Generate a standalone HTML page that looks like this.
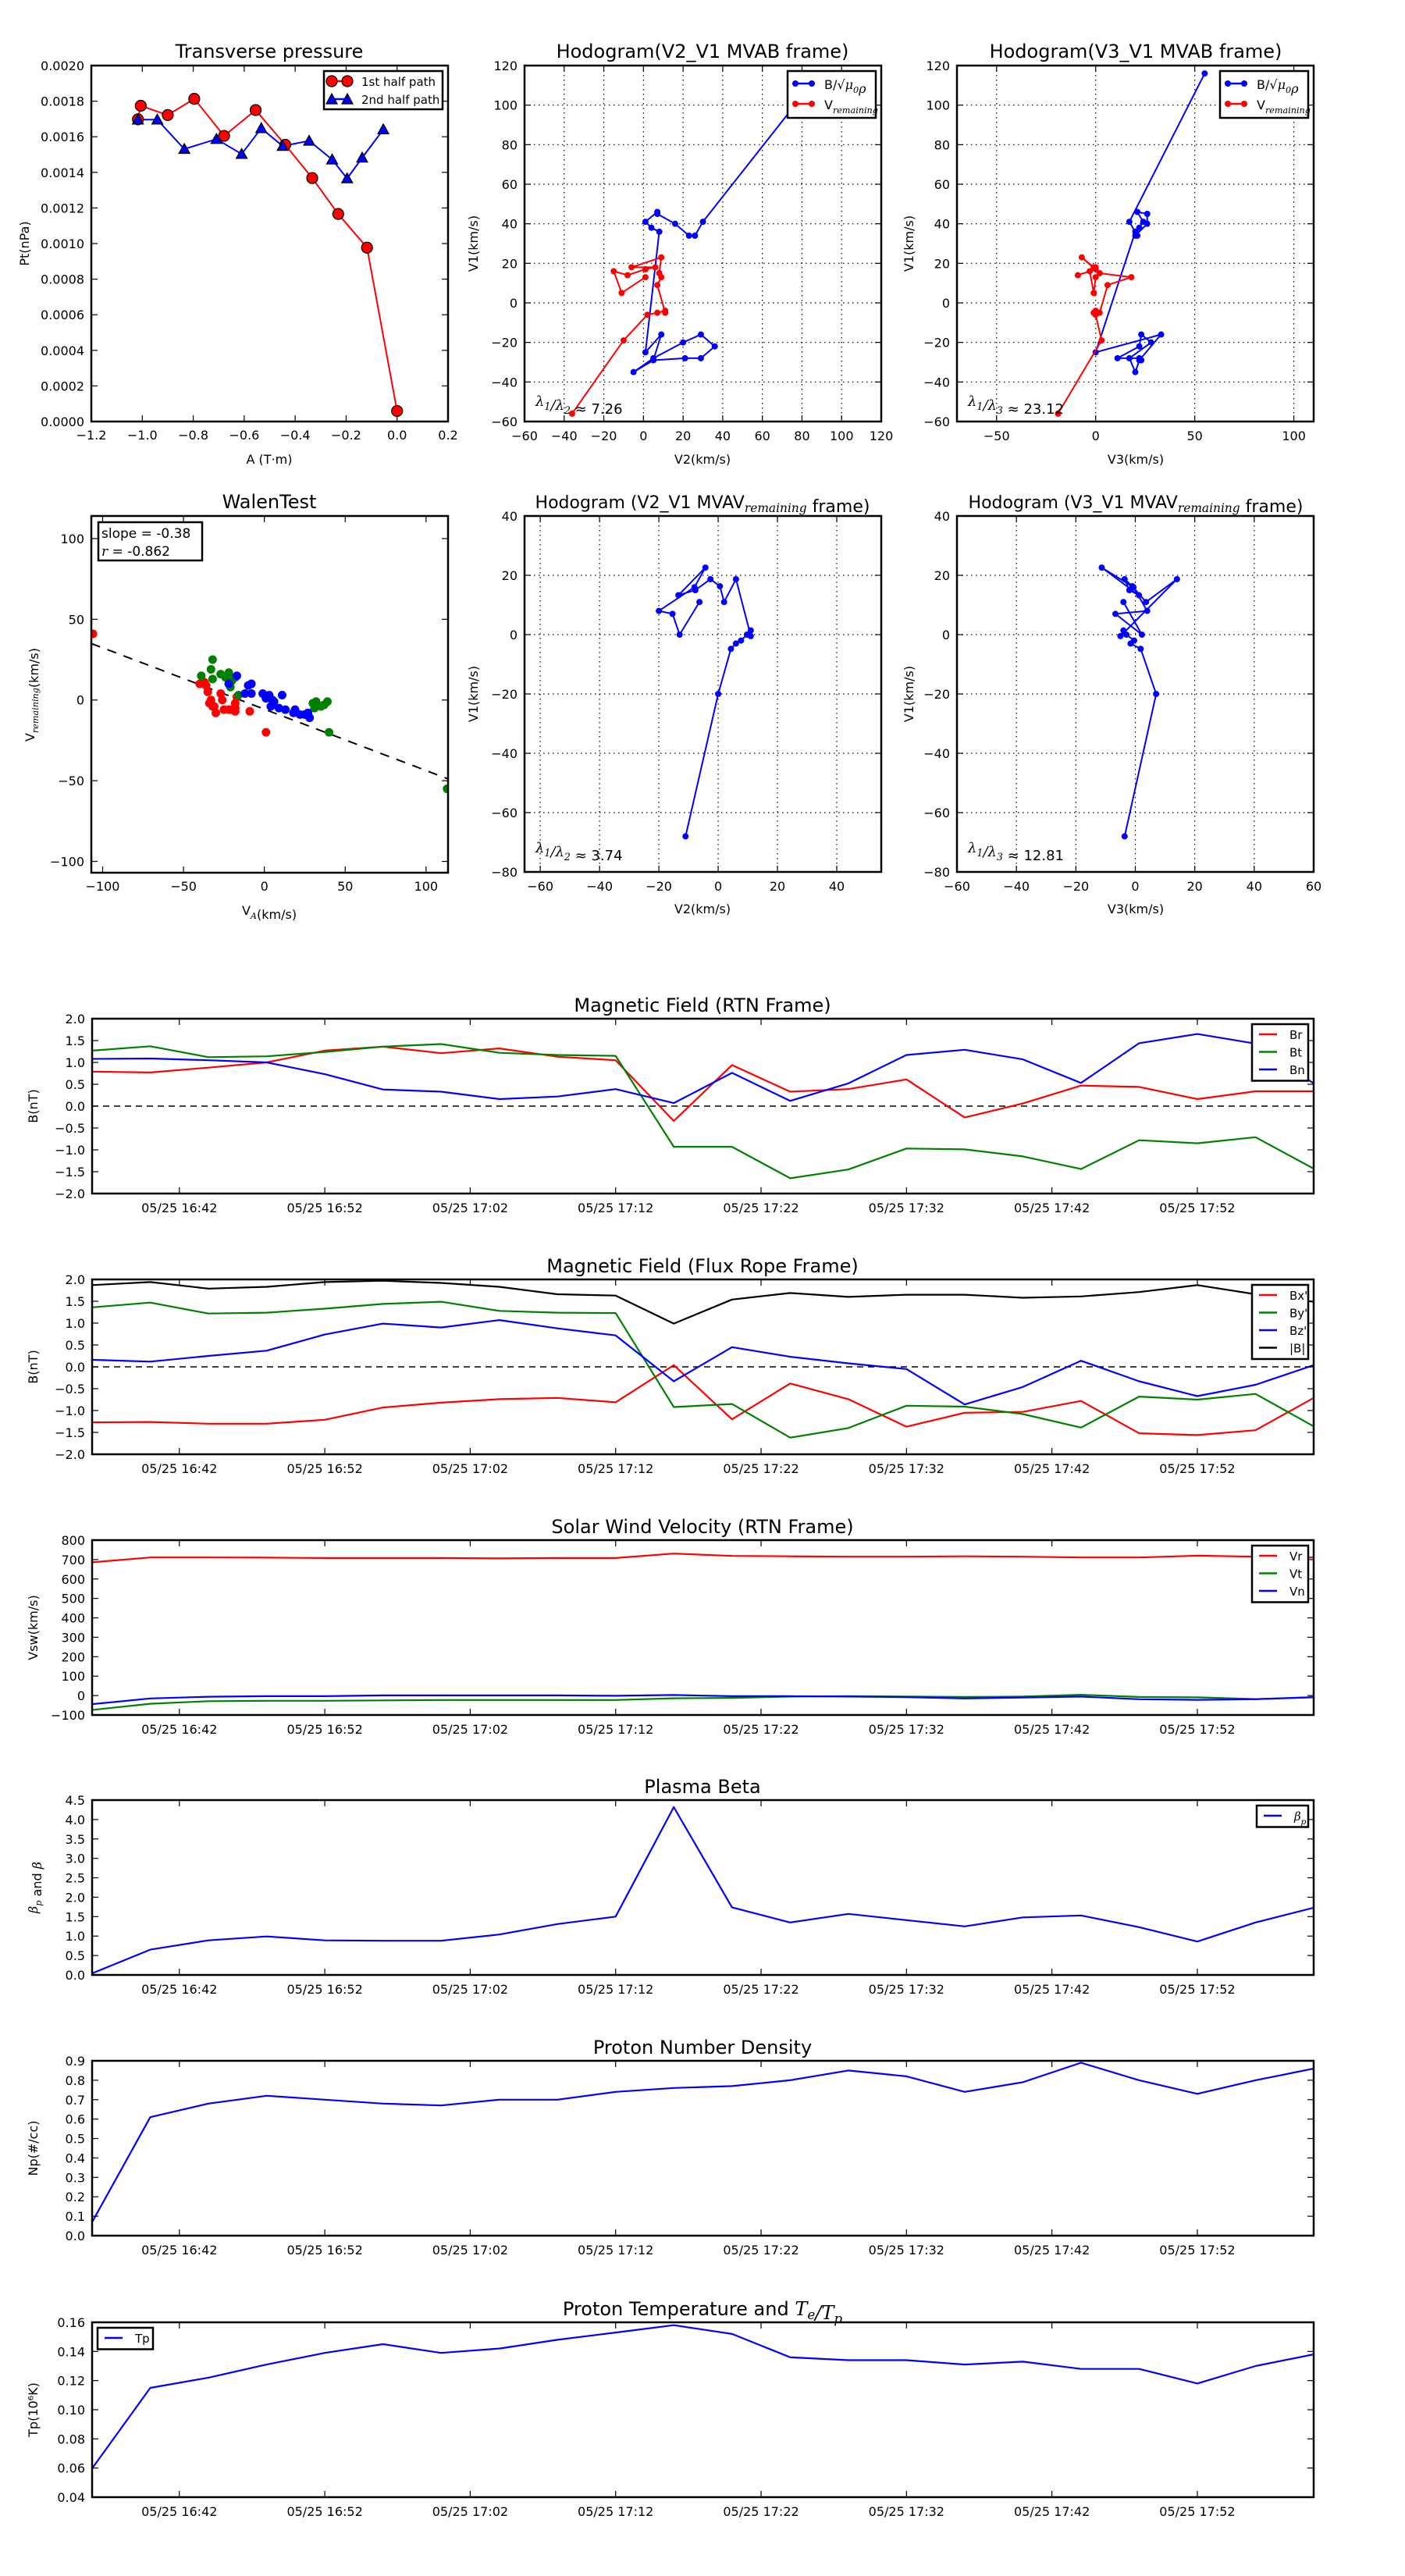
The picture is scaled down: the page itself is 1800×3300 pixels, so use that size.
<!DOCTYPE html>
<html><head><meta charset="utf-8"><title>Flux rope analysis</title>
<style>html,body{margin:0;padding:0;background:#fff}svg{display:block}text{font-family:"DejaVu Sans","Liberation Sans",sans-serif}</style>
</head><body>
<svg id="figure" xmlns="http://www.w3.org/2000/svg" width="1800" height="3300" viewBox="0 0 1800 3300">
<defs id="defs"></defs>
<rect x="0" y="0" width="1800" height="3300" fill="#fff"/>
</svg>
<script>
// ---------- data ----------
const times=['16:36','16:40','16:44','16:48','16:52','16:56','17:00','17:04','17:08','17:12','17:16','17:20','17:24','17:28','17:32','17:36','17:40','17:44','17:48','17:52','17:56','18:00'];
const timeTickLabels=['05/25 16:42','05/25 16:52','05/25 17:02','05/25 17:12','05/25 17:22','05/25 17:32','05/25 17:42','05/25 17:52'];
const Br=[0.79,0.77,0.88,1.0,1.27,1.36,1.21,1.32,1.13,1.05,-0.34,0.94,0.33,0.39,0.61,-0.26,0.06,0.47,0.44,0.16,0.34,0.34];
const Bt=[1.27,1.37,1.12,1.14,1.24,1.36,1.42,1.22,1.17,1.15,-0.93,-0.93,-1.65,-1.45,-0.97,-0.99,-1.15,-1.44,-0.78,-0.85,-0.71,-1.43];
const Bn=[1.08,1.09,1.05,1.0,0.73,0.38,0.33,0.16,0.22,0.39,0.07,0.76,0.12,0.52,1.17,1.29,1.07,0.53,1.44,1.65,1.43,0.52];
const Bxp=[-1.27,-1.26,-1.30,-1.30,-1.21,-0.93,-0.82,-0.74,-0.71,-0.81,0.04,-1.20,-0.38,-0.74,-1.37,-1.05,-1.03,-0.78,-1.52,-1.56,-1.45,-0.71];
const Byp=[1.36,1.47,1.22,1.24,1.33,1.44,1.49,1.28,1.24,1.23,-0.92,-0.85,-1.62,-1.40,-0.89,-0.91,-1.08,-1.39,-0.68,-0.75,-0.62,-1.36];
const Bzp=[0.16,0.12,0.25,0.37,0.74,0.99,0.90,1.07,0.88,0.72,-0.33,0.45,0.23,0.08,-0.05,-0.86,-0.46,0.14,-0.33,-0.67,-0.41,0.04];
const Bmag=[1.87,1.94,1.79,1.83,1.94,1.97,1.92,1.83,1.66,1.63,0.99,1.54,1.69,1.60,1.65,1.65,1.58,1.61,1.71,1.87,1.66,1.49];
const Vr=[686,711,711,710,708,708,708,706,708,708,731,719,717,715,715,717,715,711,711,720,715,711];
const Vt=[-74,-42,-29,-27,-27,-25,-23,-23,-23,-23,-14,-12,-5,-3,-5,-7,-5,4,-7,-9,-18,-9];
const Vn=[-44,-15,-6,-3,-3,1,1,1,1,-1,3,-3,-3,-5,-8,-15,-10,-5,-19,-22,-19,-8];
const betaP=[0.04,0.65,0.89,0.99,0.89,0.88,0.88,1.04,1.31,1.50,4.32,1.74,1.35,1.57,1.41,1.25,1.48,1.53,1.23,0.86,1.35,1.73];
const Np=[0.07,0.61,0.68,0.72,0.70,0.68,0.67,0.70,0.70,0.74,0.76,0.77,0.80,0.85,0.82,0.74,0.79,0.89,0.80,0.73,0.80,0.86];
const Tp=[0.0597,0.115,0.122,0.131,0.139,0.145,0.139,0.142,0.148,0.153,0.158,0.152,0.136,0.134,0.134,0.131,0.133,0.128,0.128,0.118,0.130,0.138];

const pt1A=[-1.017,-1.006,-0.900,-0.796,-0.679,-0.555,-0.439,-0.333,-0.231,-0.118,0.0];
const pt1P=[0.001698,0.001774,0.001722,0.001813,0.001605,0.001750,0.001555,0.001368,0.001166,0.000977,0.000059];
const pt2A=[-1.017,-0.941,-0.835,-0.709,-0.610,-0.533,-0.449,-0.345,-0.255,-0.196,-0.137,-0.054];
const pt2P=[0.001696,0.001696,0.001531,0.001587,0.001503,0.001648,0.001548,0.001577,0.001472,0.001366,0.001482,0.001641];

const hbV1=[116,41,34,34,40,45,46,41,38,36,-25,-16,-29,-35,-28,-20,-16,-22,-28,-28,-29];
const hbV2=[89,30,26,23,16,7,7,1,4,8,1,9,5,-5,5,20,29,36,29,21,5];
const hbV3=[55,17,21,20,26,26,21,24,22,20,0,33,22,20,17,28,23,22,11,22,23];
const hvV1=[-56,-19,-6,-5,-4,-5,9,13,15,23,18,18,17,14,16,5,13];
const hvV2=[-36,-10,2,7,11,11,7,9,8,9,-6,6,1,-8,-15,-11,1];
const hvV3=[-19,3,0,-1,0,2,6,18,2,-7,-1,0,0,-9,-3,-1,0];

const hrV1=[-68,-20,-4.8,-3,-2,0,1.4,-0.5,18.7,11,16.3,18.7,15,13.3,22.6,16,8,7,0,11];
const hrV2=[-11,0,4.3,6,7.7,9.7,11,11,6,2,0.6,-2.6,-7.7,-13.4,-4.3,-8,-20,-15.4,-13,-6.3];
const hrV3=[-3.6,7,1.8,-1.6,-0.4,-3,-4,-5,14,3.6,-1,-3.6,-2,1.2,-11.3,-0.6,4,-6.7,2.2,-4];

const wRedX=[-106,-40,-37,-36,-35,-34,-33,-32,-31,-30,-27,-26,-25,-22,-21,-18,-18,-17,-18,-9,1];
const wRedY=[41,10,11,9,5,-2,0,-4,-4,-8,4,0,-6,-6,-6,-7,-2,2,-5,-7,-20];
const wGreenX=[-39,-33,-32,-32,-27,-24,-22,-22,-21,-20,-18,-16,30,31,32,33,35,37,39,40,113];
const wGreenY=[15,19,25,13,16,14,17,10,8,12,14,3,-2,-5,-1,-3,-4,-3,-1,-20,-55];
const wBlueX=[-17,-22,-10,-8,-12,-8,-1,1,3,4,5,6,9,11,13,18,19,22,25,27,28];
const wBlueY=[15,10,9,10,4,4,4,1,3,-4,0,-1,-5,3,-6,-8,-6,-9,-9,-8,-11];
const walenSlope=-0.38;
const walenIntercept=-5.7;

// ---------- helpers ----------
const NS='http://www.w3.org/2000/svg';
const svg=document.getElementById('figure');
const defs=document.getElementById('defs');
function mk(tag,attrs,parent,name){
  const e=document.createElementNS(NS,tag);
  for(const k in attrs) e.setAttribute(k,attrs[k]);
  
  
  parent.appendChild(e);
  return e;
}
function txt(parent,name,x,y,html,o){
  o=o||{};
  const a={x:0,y:0,'font-size':o.size||16,'text-anchor':o.anchor||'start',fill:'#000'};
  a.transform='translate('+x+','+y+')'+(o.rot?' rotate('+o.rot+')':'');
  const t=mk('text',a,parent,name);
  t.innerHTML=html;
  return t;
}
const SUB=(s)=>'<tspan font-family="DejaVu Serif, Liberation Serif, serif" font-style="italic" font-size="0.7em" dy="5">'+s+'</tspan><tspan dy="-5"></tspan>';
const IT=(s)=>'<tspan font-family="DejaVu Serif, Liberation Serif, serif" font-style="italic">'+s+'</tspan>';
let clipN=0;
function axes(o){
  const g=mk('g',{},svg,o.name);
  const sx=v=>o.x0+(v-o.xmin)/(o.xmax-o.xmin)*(o.x1-o.x0);
  const sy=v=>o.y1-(v-o.ymin)/(o.ymax-o.ymin)*(o.y1-o.y0);
  const id='clip'+(clipN++);
  const cp=mk('clipPath',{id:id},defs,o.name+'-clip');
  mk('rect',{x:o.x0,y:o.y0,width:o.x1-o.x0,height:o.y1-o.y0},cp,o.name+'-clip-rect');
  if(o.grid){
    o.xticks.forEach(v=>{const x=sx(v); if(x>o.x0+1&&x<o.x1-1) mk('line',{x1:x,x2:x,y1:o.y0,y2:o.y1,stroke:'#000','stroke-width':1.2,'stroke-dasharray':'1.5,4.5'},g,'grid-line-x');});
    o.yticks.forEach(v=>{const y=sy(v); if(y>o.y0+1&&y<o.y1-1) mk('line',{x1:o.x0,x2:o.x1,y1:y,y2:y,stroke:'#000','stroke-width':1.2,'stroke-dasharray':'1.5,4.5'},g,'grid-line-y');});
  }
  const data=mk('g',{'clip-path':'url(#'+id+')'},g,o.name+'-data');
  return {g:g,data:data,sx:sx,sy:sy,o:o};
}
function finish(a){
  const o=a.o,g=a.g;
  o.xticks.forEach((v,i)=>{const x=a.sx(v); if(x<o.x0-0.5||x>o.x1+0.5) return;
    mk('line',{x1:x,x2:x,y1:o.y1,y2:o.y1-8,stroke:'#000','stroke-width':1.2},g,'x-tick');
    mk('line',{x1:x,x2:x,y1:o.y0,y2:o.y0+8,stroke:'#000','stroke-width':1.2},g,'x-tick-top');
    txt(g,'x-tick-label',x,o.y1+(o.xoff||23),o.xlabels[i],{size:16,anchor:'middle'});});
  o.yticks.forEach((v,i)=>{const y=a.sy(v); if(y<o.y0-0.5||y>o.y1+0.5) return;
    mk('line',{x1:o.x0,x2:o.x0+8,y1:y,y2:y,stroke:'#000','stroke-width':1.2},g,'y-tick');
    mk('line',{x1:o.x1,x2:o.x1-8,y1:y,y2:y,stroke:'#000','stroke-width':1.2},g,'y-tick-right');
    txt(g,'y-tick-label',o.x0-9,y+6,o.ylabels[i],{size:16,anchor:'end'});});
  mk('rect',{x:o.x0,y:o.y0,width:o.x1-o.x0,height:o.y1-o.y0,fill:'none',stroke:'#000','stroke-width':2.5},g,'axes-frame');
}
function poly(a,name,xs,ys,color,w){
  const pts=xs.map((x,i)=>a.sx(x).toFixed(1)+','+a.sy(ys[i]).toFixed(1)).join(' ');
  return mk('polyline',{points:pts,fill:'none',stroke:color,'stroke-width':w||2,'stroke-linejoin':'round'},a.data,name);
}
function dots(a,name,xs,ys,color,r,stroke){
  xs.forEach((x,i)=>{mk('circle',{cx:a.sx(x),cy:a.sy(ys[i]),r:r,fill:color,stroke:stroke||'none','stroke-width':1.2},a.data,name);});
}
function tris(a,name,xs,ys,color,s){
  xs.forEach((x,i)=>{const cx=a.sx(x),cy=a.sy(ys[i]);
    mk('polygon',{points:(cx)+','+(cy-s)+' '+(cx-s)+','+(cy+s*0.8)+' '+(cx+s)+','+(cy+s*0.8),fill:color,stroke:'#000','stroke-width':1.2},a.data,name);});
}
function fmt(v,d){const s=Math.abs(v).toFixed(d);return (v<-1e-9?'\u2212':'')+s;}
function range(a,b,s){const r=[];for(let v=a;v<=b+s*1e-6;v+=s)r.push(+v.toFixed(6));return r;}
function legendBox(name,x,y,w,h){return mk('rect',{x:x,y:y,width:w,height:h,fill:'#fff',stroke:'#000','stroke-width':2.5},svg,name);}
function legLine(name,x0,x1,y,color,marker){
  mk('line',{x1:x0,x2:x1,y1:y,y2:y,stroke:color,'stroke-width':2.5},svg,name);
  if(marker==='o'){mk('circle',{cx:x0,cy:y,r:4,fill:color},svg,name+'-marker');mk('circle',{cx:x1,cy:y,r:4,fill:color},svg,name+'-marker');}
  if(marker==='O'){mk('circle',{cx:x0,cy:y,r:7,fill:color,stroke:'#000','stroke-width':1.2},svg,name+'-marker');mk('circle',{cx:x1,cy:y,r:7,fill:color,stroke:'#000','stroke-width':1.2},svg,name+'-marker');}
  if(marker==='^'){[x0,x1].forEach(cx=>mk('polygon',{points:cx+','+(y-7)+' '+(cx-7)+','+(y+6)+' '+(cx+7)+','+(y+6),fill:color,stroke:'#000','stroke-width':1.2},svg,name+'-marker'));}
}

// ---------- Row 1: transverse pressure ----------
{
  const xt=range(-1.2,0.2,0.2), yt=range(0,0.002,0.0002);
  const a=axes({name:'transverse-pressure-chart',x0:117,x1:574,y0:84,y1:540,xmin:-1.2,xmax:0.2,ymin:0,ymax:0.002,
    xticks:xt,xlabels:xt.map(v=>fmt(v,1)),yticks:yt,ylabels:yt.map(v=>fmt(v,4)),xoff:23});
  poly(a,'first-half-line',pt1A,pt1P,'#ff0000',2);
  poly(a,'second-half-line',pt2A,pt2P,'#0000ff',2);
  dots(a,'first-half-point',pt1A,pt1P,'#ff0000',7,'#000');
  tris(a,'second-half-point',pt2A,pt2P,'#0000ff',7);
  finish(a);
  txt(svg,'transverse-pressure-title',345,74,'Transverse pressure',{size:24,anchor:'middle'});
  txt(svg,'x-axis-title',345,594,'A (T·m)',{size:16,anchor:'middle'});
  txt(svg,'y-axis-title',37,312,'Pt(nPa)',{size:16,anchor:'middle',rot:-90});
  legendBox('transverse-legend',415,91,152,49);
  legLine('legend-first-half',425,445,104,'#ff0000','O');
  txt(svg,'legend-first-half-label',463,110,'1st half path',{size:15});
  legLine('legend-second-half',425,445,127,'#0000ff','^');
  txt(svg,'legend-second-half-label',463,133,'2nd half path',{size:15});
}
// ---------- hodogram MVAB ----------
function hodoLegend(prefix,x){
  legendBox(prefix+'-legend',x,91,113,60);
  legLine(prefix+'-legend-b',x+10,x+31,107,'#0000ff','o');
  txt(svg,prefix+'-legend-b-label',x+47,114,'B/√'+IT('μ')+SUB('0')+IT('ρ'),{size:16});
  legLine(prefix+'-legend-v',x+10,x+31,133,'#ff0000','o');
  txt(svg,prefix+'-legend-v-label',x+47,140,'V'+SUB('remaining'),{size:16});
}
{
  const xt=range(-60,120,20), yt=range(-60,120,20);
  const a=axes({name:'hodogram-v2-v1-mvab',x0:672,x1:1129,y0:84,y1:540,xmin:-60,xmax:120,ymin:-60,ymax:120,grid:true,
    xticks:xt,xlabels:xt.map(v=>fmt(v,0)),yticks:yt,ylabels:yt.map(v=>fmt(v,0)),xoff:24});
  poly(a,'b-series-line',hbV2,hbV1,'#0000ff',2);
  dots(a,'b-series-point',hbV2,hbV1,'#0000ff',4);
  poly(a,'v-remaining-line',hvV2,hvV1,'#ff0000',2);
  dots(a,'v-remaining-point',hvV2,hvV1,'#ff0000',4);
  finish(a);
  txt(svg,'hodogram-v2-v1-mvab-title',900,74,'Hodogram(V2_V1 MVAB frame)',{size:24,anchor:'middle'});
  txt(svg,'x-axis-title',900,594,'V2(km/s)',{size:16,anchor:'middle'});
  txt(svg,'y-axis-title',612,312,'V1(km/s)',{size:16,anchor:'middle',rot:-90});
  txt(svg,'eigen-ratio-label',686,520,IT('λ')+SUB('1')+IT('/λ')+SUB('2')+' ≈ 7.26',{size:18});
  hodoLegend('hodogram-v2-mvab',1009);
}
{
  const xt=range(-50,100,50), yt=range(-60,120,20);
  const a=axes({name:'hodogram-v3-v1-mvab',x0:1226,x1:1683,y0:84,y1:540,xmin:-70,xmax:110,ymin:-60,ymax:120,grid:true,
    xticks:xt,xlabels:xt.map(v=>fmt(v,0)),yticks:yt,ylabels:yt.map(v=>fmt(v,0)),xoff:24});
  poly(a,'b-series-line',hbV3,hbV1,'#0000ff',2);
  dots(a,'b-series-point',hbV3,hbV1,'#0000ff',4);
  poly(a,'v-remaining-line',hvV3,hvV1,'#ff0000',2);
  dots(a,'v-remaining-point',hvV3,hvV1,'#ff0000',4);
  finish(a);
  txt(svg,'hodogram-v3-v1-mvab-title',1455,74,'Hodogram(V3_V1 MVAB frame)',{size:24,anchor:'middle'});
  txt(svg,'x-axis-title',1455,594,'V3(km/s)',{size:16,anchor:'middle'});
  txt(svg,'y-axis-title',1170,312,'V1(km/s)',{size:16,anchor:'middle',rot:-90});
  txt(svg,'eigen-ratio-label',1240,520,IT('λ')+SUB('1')+IT('/λ')+SUB('3')+' ≈ 23.12',{size:18});
  hodoLegend('hodogram-v3-mvab',1563);
}
// ---------- Row 2: Walen test ----------
{
  const xt=range(-100,100,50), yt=range(-100,100,50);
  const a=axes({name:'walen-test-chart',x0:117,x1:574,y0:661,y1:1118,xmin:-107,xmax:113.6,ymin:-107,ymax:114,
    xticks:xt,xlabels:xt.map(v=>fmt(v,0)),yticks:yt,ylabels:yt.map(v=>fmt(v,0)),xoff:23});
  const fx=[-107,113.6];
  poly(a,'walen-fit-line',fx,fx.map(x=>walenSlope*x+walenIntercept),'#000',2).setAttribute('stroke-dasharray','12,10');
  dots(a,'walen-red-point',wRedX,wRedY,'#ff0000',5.5);
  dots(a,'walen-green-point',wGreenX,wGreenY,'#008000',5.5);
  dots(a,'walen-blue-point',wBlueX,wBlueY,'#0000ff',5.5);
  finish(a);
  txt(svg,'walen-test-title',345,651,'WalenTest',{size:24,anchor:'middle'});
  txt(svg,'x-axis-title',345,1172,'V'+SUB('A')+'(km/s)',{size:16,anchor:'middle'});
  txt(svg,'y-axis-title',44,890,'V'+SUB('remaining')+'(km/s)',{size:16,anchor:'middle',rot:-90});
  legendBox('walen-stats-box',126,669,133,49);
  txt(svg,'slope-label',130,689,'slope = -0.38',{size:17});
  txt(svg,'correlation-label',130,712,IT('r')+' = -0.862',{size:17});
}
{
  const xt=range(-60,40,20), yt=range(-80,40,20);
  const a=axes({name:'hodogram-v2-v1-mvav',x0:672,x1:1129,y0:661,y1:1117,xmin:-65.3,xmax:55,ymin:-80,ymax:40,grid:true,
    xticks:xt,xlabels:xt.map(v=>fmt(v,0)),yticks:yt,ylabels:yt.map(v=>fmt(v,0)),xoff:24});
  poly(a,'v-remaining-line',hrV2,hrV1,'#0000ff',2);
  dots(a,'v-remaining-point',hrV2,hrV1,'#0000ff',4);
  finish(a);
  txt(svg,'hodogram-v2-v1-mvav-title',900,651,'Hodogram (V2_V1 MVAV'+SUB('remaining')+' frame)',{size:22,anchor:'middle'});
  txt(svg,'x-axis-title',900,1170,'V2(km/s)',{size:16,anchor:'middle'});
  txt(svg,'y-axis-title',612,889,'V1(km/s)',{size:16,anchor:'middle',rot:-90});
  txt(svg,'eigen-ratio-label',686,1092,IT('λ')+SUB('1')+IT('/λ')+SUB('2')+' ≈ 3.74',{size:18});
}
{
  const xt=range(-60,60,20), yt=range(-80,40,20);
  const a=axes({name:'hodogram-v3-v1-mvav',x0:1226,x1:1683,y0:661,y1:1117,xmin:-60,xmax:60,ymin:-80,ymax:40,grid:true,
    xticks:xt,xlabels:xt.map(v=>fmt(v,0)),yticks:yt,ylabels:yt.map(v=>fmt(v,0)),xoff:24});
  poly(a,'v-remaining-line',hrV3,hrV1,'#0000ff',2);
  dots(a,'v-remaining-point',hrV3,hrV1,'#0000ff',4);
  finish(a);
  txt(svg,'hodogram-v3-v1-mvav-title',1455,651,'Hodogram (V3_V1 MVAV'+SUB('remaining')+' frame)',{size:22,anchor:'middle'});
  txt(svg,'x-axis-title',1455,1170,'V3(km/s)',{size:16,anchor:'middle'});
  txt(svg,'y-axis-title',1170,889,'V1(km/s)',{size:16,anchor:'middle',rot:-90});
  txt(svg,'eigen-ratio-label',1240,1092,IT('λ')+SUB('1')+IT('/λ')+SUB('3')+' ≈ 12.81',{size:18});
}
// ---------- time series ----------
const tMin=times.map(s=>{const p=s.split(':');return (+p[0])*60+(+p[1])-(16*60+36);});
const tickMin=timeTickLabels.map(s=>{const p=s.split(' ')[1].split(':');return (+p[0])*60+(+p[1])-(16*60+36);});
function ts(name,y0,ymin,ymax,ystep,dec,title,ylab){
  const yt=range(ymin,ymax,ystep);
  const a=axes({name:name,x0:118,x1:1683,y0:y0,y1:y0+224,xmin:0,xmax:84,ymin:ymin,ymax:ymax,
    xticks:tickMin,xlabels:timeTickLabels,yticks:yt,ylabels:yt.map(v=>fmt(v,dec)),xoff:24});
  txt(svg,name+'-title',900,y0-9,title,{size:24,anchor:'middle'});
  txt(svg,name+'-y-axis-title',48,y0+112,ylab,{size:16,anchor:'middle',rot:-90});
  return a;
}
function zeroLine(a){mk('line',{x1:a.o.x0,x2:a.o.x1,y1:a.sy(0),y2:a.sy(0),stroke:'#000','stroke-width':1.5,'stroke-dasharray':'8,6'},a.data,'zero-reference-line');}
function tsLegend(name,x,y,w,entries){
  legendBox(name,x,y,w,entries.length*22.5+5);
  entries.forEach((e,i)=>{const yy=y+13+i*22.5;
    legLine(name+'-entry-'+i,x+9,x+32,yy,e[1],null);
    txt(svg,name+'-label-'+i,x+48,yy+6,e[0],{size:15});});
}
{
  const a=ts('magnetic-field-rtn-chart',1305,-2,2,0.5,1,'Magnetic Field (RTN Frame)','B(nT)');
  zeroLine(a);
  poly(a,'br-line',tMin,Br,'#ff0000',2.2);
  poly(a,'bt-line',tMin,Bt,'#008000',2.2);
  poly(a,'bn-line',tMin,Bn,'#0000ff',2.2);
  finish(a);
  tsLegend('rtn-legend',1604,1312,72,[['Br','#ff0000'],['Bt','#008000'],['Bn','#0000ff']]);
}
{
  const a=ts('magnetic-field-flux-rope-chart',1639,-2,2,0.5,1,'Magnetic Field (Flux Rope Frame)','B(nT)');
  zeroLine(a);
  poly(a,'bx-prime-line',tMin,Bxp,'#ff0000',2.2);
  poly(a,'by-prime-line',tMin,Byp,'#008000',2.2);
  poly(a,'bz-prime-line',tMin,Bzp,'#0000ff',2.2);
  poly(a,'b-magnitude-line',tMin,Bmag,'#000000',2.2);
  finish(a);
  tsLegend('flux-rope-legend',1604,1646,72,[["Bx'",'#ff0000'],["By'",'#008000'],["Bz'",'#0000ff'],['|B|','#000']]);
}
{
  const a=ts('solar-wind-velocity-chart',1973,-100,800,100,0,'Solar Wind Velocity (RTN Frame)','Vsw(km/s)');
  poly(a,'vr-line',tMin,Vr,'#ff0000',2.2);
  poly(a,'vt-line',tMin,Vt,'#008000',2.2);
  poly(a,'vn-line',tMin,Vn,'#0000ff',2.2);
  finish(a);
  tsLegend('velocity-legend',1604,1980,72,[['Vr','#ff0000'],['Vt','#008000'],['Vn','#0000ff']]);
}
{
  const a=ts('plasma-beta-chart',2306,0,4.5,0.5,1,'Plasma Beta',IT('β')+SUB('p')+' and '+IT('β'));
  poly(a,'beta-p-line',tMin,betaP,'#0000ff',2.2);
  finish(a);
  tsLegend('beta-legend',1610,2313,66,[[IT('β')+SUB('p'),'#0000ff']]);
}
{
  const a=ts('proton-density-chart',2640,0,0.9,0.1,1,'Proton Number Density','Np(#/cc)');
  poly(a,'np-line',tMin,Np,'#0000ff',2.2);
  finish(a);
}
{
  const a=ts('proton-temperature-chart',2975,0.04,0.16,0.02,2,'Proton Temperature and '+IT('T')+SUB('e')+IT('/T')+SUB('p'),'Tp(10⁶K)');
  poly(a,'tp-line',tMin,Tp,'#0000ff',2.2);
  finish(a);
  tsLegend('tp-legend',125,2982,71,[['Tp','#0000ff']]);
}
</script>
</body></html>
